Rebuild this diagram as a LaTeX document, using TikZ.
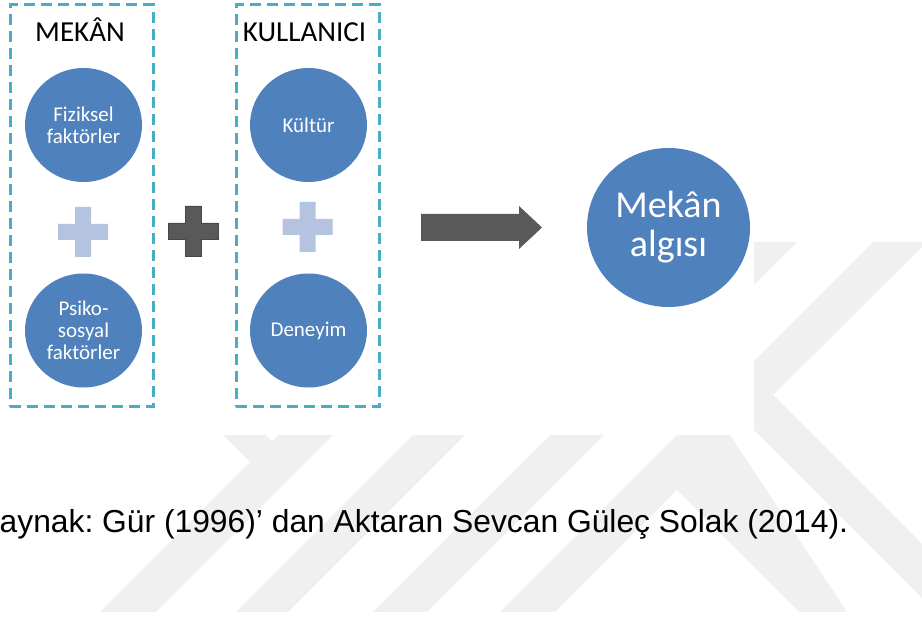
\documentclass[tikz,border=0pt]{standalone}
\usepackage{fontspec}
\setmainfont{Carlito}
\newfontfamily\capfont{Liberation Sans}
\usetikzlibrary{shapes.geometric}
\definecolor{cblue}{HTML}{4F81BD}
\definecolor{dashblue}{HTML}{4BACC6}
\definecolor{lplus}{HTML}{B3C3E0}
\definecolor{dgray}{HTML}{595959}
\definecolor{dgrayedge}{HTML}{474747}
\definecolor{wmgray}{HTML}{F0F0F0}
\tikzset{
  pics/plussign/.style={code={
    \path[pic actions] (-8,-25) -- (8,-25) -- (8,-8) -- (25,-8) -- (25,8) -- (8,8)
      -- (8,25) -- (-8,25) -- (-8,8) -- (-25,8) -- (-25,-8) -- (-8,-8) -- cycle;}},
}
\frenchspacing
\begin{document}
\begin{tikzpicture}[x=1pt,y=-1pt,
  bluecirc/.style={ellipse, fill=cblue, inner sep=0pt, minimum width=117pt,
    minimum height=114pt, text=white, align=center,
    font=\fontsize{21}{22}\selectfont},
  groupbox/.style={draw=dashblue, line width=3pt, dash pattern=on 11pt off 6pt,
    inner sep=0pt, minimum width=143pt, minimum height=402pt},
  grouptitle/.style={font=\fontsize{29}{30}\selectfont, anchor=base, inner sep=0pt},
]
\useasboundingbox (0,0) rectangle (922,617);
% watermark
\begin{scope}
  \clip (0,242) rectangle (922,612);
  \fill[wmgray] (223,435) -- (266,435) -- (272,441) -- (278,435) -- (333,435)
    -- (156,612) -- (100,612) -- (250,462) -- cycle;
  \fill[wmgray] (413,435) -- (465,435) -- (288,612) -- (236,612) -- cycle;
  \fill[wmgray] (743,242) -- (797,242) -- (427,612) -- (373,612) -- cycle;
  \fill[wmgray] (500,612) -- (677,435) -- (730,435) -- (847,612) -- (799,612)
    -- (677,490) -- (555,612) -- cycle;
  \fill[wmgray] (873,242) -- (922,242) -- (922,247) -- (773,395) -- (922,544)
    -- (922,598) -- (719.5,395.5) -- cycle;
\end{scope}
\fill[white] (0,0) rectangle (754,435);
% group boxes
\node[groupbox] (mekanbox) at (81.5,206) {};
\node[groupbox] (kullbox) at (307.5,206) {};
\node[grouptitle] (mekantitle) at (80,41.5) {MEKÂN};
\node[grouptitle] (kulltitle) at (304.5,41.5) {KULLANICI};
% circles
\node[bluecirc] (fiz) at (83.5,125) {Fiziksel\\faktörler};
\node[bluecirc] (psi) at (83.5,330.5) {Psiko-\\sosyal\\faktörler};
\node[bluecirc] (kul) at (308.5,125) {Kültür};
\node[bluecirc] (den) at (308.5,330.5) {Deneyim};
\node[ellipse, fill=cblue, inner sep=0pt, minimum width=163pt, minimum height=159pt,
  text=white, align=center, font=\fontsize{38}{39}\selectfont] (algi) at (668.5,227.5) {Mekân\\algısı};
% plus signs
\pic[fill=lplus] (plusa) at (83,232) {plussign};
\pic[fill=lplus] (plusb) at (307.5,227) {plussign};
\pic[fill=dgray, draw=dgrayedge, line width=0.8pt] (plusc) at (193.5,231) {plussign};
% arrow
\fill[dgray] (421,214) -- (519,214) -- (519,206) -- (542,227.5) -- (519,249)
  -- (519,241) -- (421,241) -- cycle;
% caption
\node[font=\capfont\fontsize{31.8}{34}\selectfont, anchor=base west, inner sep=0pt]
  (caption) at (-0.5,533) {aynak: Gür (1996)’ dan Aktaran Sevcan Güleç Solak (2014).};
\end{tikzpicture}
\end{document}
